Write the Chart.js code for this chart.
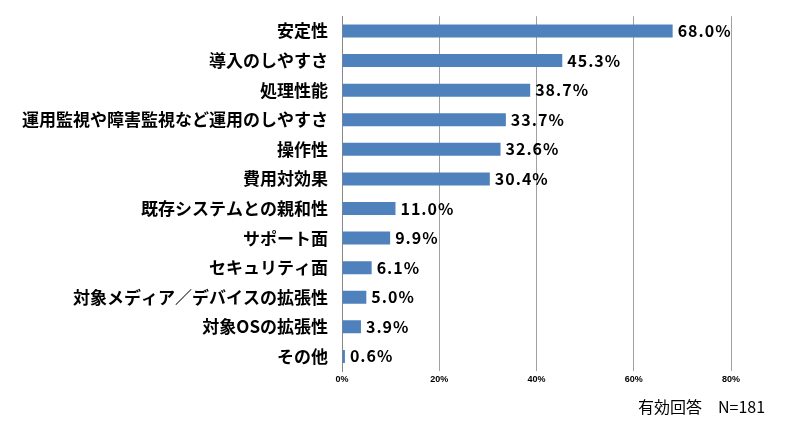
<!DOCTYPE html>
<html>
<head>
<meta charset="utf-8">
<script src="https://cdn.jsdelivr.net/npm/chart.js@4"></script>
<style>
body { margin: 0; background: #fff; }
#wrap { position: relative; width: 800px; height: 421px; }
#note { position: absolute; left: 638px; top: 394px; font: 16px "Noto Sans CJK JP", sans-serif; color: #000; }
</style>
</head>
<body>
<div id="wrap">
<canvas id="c" width="800" height="421"></canvas>
<div id="note">有効回答　N=181</div>
</div>
<script>
const categories = ['安定性', '導入のしやすさ', '処理性能', '運用監視や障害監視など運用のしやすさ', '操作性', '費用対効果',
  '既存システムとの親和性', 'サポート面', 'セキュリティ面', '対象メディア／デバイスの拡張性', '対象OSの拡張性', 'その他']
const values = [68.0, 45.3, 38.7, 33.7, 32.6, 30.4, 11.0, 9.9, 6.1, 5.0, 3.9, 0.6]
const xTicks = [0, 20, 40, 60, 80]

// 棒の右に値を表示
const valueLabels = {
  id: 'valueLabels',
  afterDatasetsDraw(chart) {
    const ctx = chart.ctx
    const meta = chart.getDatasetMeta(0)
    ctx.save()
    ctx.font = 'bold 16px "Noto Sans CJK JP", sans-serif'
    ctx.letterSpacing = '1px'
    ctx.fillStyle = '#000'
    ctx.textBaseline = 'middle'
    meta.data.forEach((bar, i) => {
      ctx.fillText(values[i].toFixed(1) + '%', bar.x + 5, bar.y)
    })
    ctx.restore()
  }
}

new Chart(document.getElementById('c'), {
  type: 'bar',
  data: {
    labels: categories,
    datasets: [{
      data: values,
      backgroundColor: '#4f81bd',
      categoryPercentage: 0.44,
      barPercentage: 1
    }]
  },
  options: {
    indexAxis: 'y',
    responsive: false,
    animation: false,
    layout: { padding: { top: 14, right: 69, bottom: 33, left: 0 } },
    plugins: { legend: { display: false }, tooltip: { enabled: false } },
    scales: {
      x: {
        min: 0, max: 80,
        afterBuildTicks: axis => { axis.ticks = xTicks.map(v => ({ value: v })) },
        ticks: { callback: v => v + '%', color: '#000', font: { size: 9, weight: 'bold' } },
        grid: { color: '#a0a0a0', drawTicks: false },
        border: { display: false }
      },
      y: {
        afterFit: axis => { axis.width = 342 },
        ticks: { color: '#000', font: { size: 17, weight: 'bold', family: '"Noto Sans CJK JP", sans-serif' }, padding: 6 },
        grid: { display: false },
        border: { color: '#888' }
      }
    }
  },
  plugins: [valueLabels]
})
</script>
</body>
</html>
